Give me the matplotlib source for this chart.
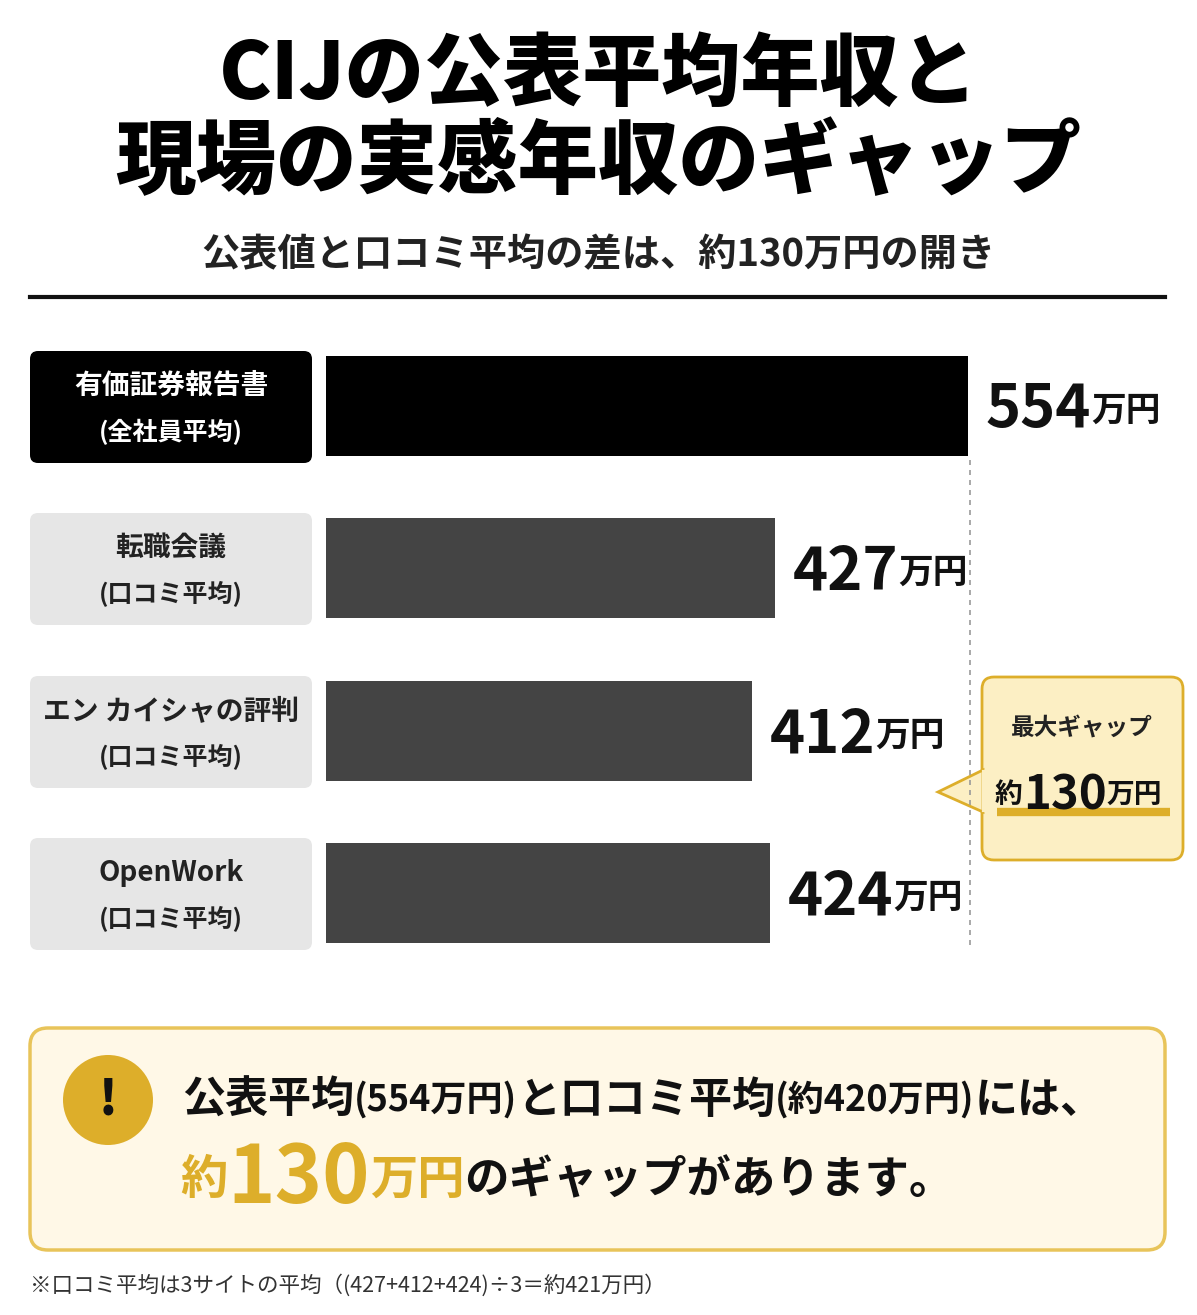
import matplotlib
matplotlib.use("Agg")
import matplotlib.pyplot as plt
from matplotlib.patches import FancyBboxPatch, Circle, Polygon

plt.rcParams['font.family'] = ['Noto Sans CJK JP', 'DejaVu Sans']

labels1 = ["有価証券報告書", "転職会議", "エン カイシャの評判", "OpenWork"]
labels2 = ["(全社員平均)", "(口コミ平均)", "(口コミ平均)", "(口コミ平均)"]
values = [554, 427, 412, 424]
unit = "万円"

W, H = 1197, 1315
fig = plt.figure(figsize=(W/100, H/100), dpi=100)
bg = fig.add_axes([0, 0, 1, 1])
bg.set_xlim(0, W); bg.set_ylim(H, 0); bg.axis('off')
r = fig.canvas.get_renderer()

GOLD = '#DDAE2A'

def seq(x, y, parts, va='center'):
    for txt, size, color in parts:
        t = bg.text(x, y, txt, fontsize=size, color=color, fontweight='bold', va=va, ha='left')
        bb = t.get_window_extent(renderer=r)
        x += bb.width

bg.text(W/2, 75, "CIJの公表平均年収と", fontsize=57, fontweight='black', ha='center', va='center')
bg.text(W/2, 163, "現場の実感年収のギャップ", fontsize=58, fontweight='black', ha='center', va='center')
bg.text(598, 255, "公表値と口コミ平均の差は、約130万円の開き", fontsize=27.5, fontweight='bold', ha='center', va='center', color='#222')
bg.plot([30, 1165], [297, 297], color='#111', lw=3)

# bar axes
px0, px1 = 326, 1180
a, b = 126, 1.519
lo, hi = (px0-a)/b, (px1-a)/b
ax = fig.add_axes([px0/W, 0, (px1-px0)/W, 1])
ax.set_xlim(lo, hi); ax.set_ylim(H, 0); ax.axis('off')
ys = [406, 568, 731, 893]
colors = ['#000000', '#444444', '#444444', '#444444']
ax.barh(ys, values, left=0, height=100, color=colors)
for i, (v, y) in enumerate(zip(values, ys)):
    xpix = a + b*v + 18
    seq(xpix, y+4, [(str(v), 43, '#111'), (unit, 25, '#111')])
    top = y - 59
    fc = '#000000' if i == 0 else '#E6E6E6'
    tc = 'white' if i == 0 else '#222'
    bg.add_patch(FancyBboxPatch((30, top+4), 282, 112, boxstyle="round,pad=0,rounding_size=8", fc=fc, ec='none'))
    bg.text(171, y-20, labels1[i], fontsize=20, fontweight='bold', color=tc, ha='center', va='center')
    bg.text(171, y+26, labels2[i], fontsize=18, fontweight='bold', color=tc, ha='center', va='center')

bg.plot([970, 970], [460, 945], color='#999', lw=1.2, ls=(0, (3, 3)))

# callout
bg.add_patch(FancyBboxPatch((982, 677), 201, 183, boxstyle="round,pad=0,rounding_size=12", fc='#FCEFC4', ec=GOLD, lw=2))
bg.add_patch(Polygon([[983, 770], [938, 792], [983, 812]], closed=True, fc='#FCEFC4', ec=GOLD, lw=2))
bg.plot([983.5, 983.5], [772, 810], color='#FCEFC4', lw=3)
bg.text(1082, 728, "最大ギャップ", fontsize=17, fontweight='bold', ha='center', va='center', color='#222')
bg.plot([997, 1170], [812, 812], color=GOLD, lw=6, solid_capstyle='butt')
seq(995, 795, [("約", 20, '#111'), ("130", 34, '#111'), ("万円", 20, '#111')])

# bottom box
bg.add_patch(FancyBboxPatch((30, 1028), 1135, 222, boxstyle="round,pad=0,rounding_size=18", fc='#FFF8E7', ec='#E8C45A', lw=2.5))
bg.add_patch(Circle((108, 1100), 45, fc=GOLD, ec='none'))
bg.text(108, 1100, "!", fontsize=34, fontweight='black', ha='center', va='center', color='#111')
seq(182, 1100, [("公表平均", 31, '#111'), ("(554万円)", 26, '#111'), ("と口コミ平均", 31, '#111'),
                ("(約420万円)", 26, '#111'), ("には、", 31, '#111')])
seq(180, 1180, [("約", 34, GOLD), ("130", 58, GOLD), ("万円", 34, GOLD), ("のギャップがあります。", 32, '#111')])

bg.text(30, 1285, "※口コミ平均は3サイトの平均（(427+412+424)÷3＝約421万円）", fontsize=15.5, color='#333', va='center')

fig.savefig("out.png", dpi=100, facecolor='white')
